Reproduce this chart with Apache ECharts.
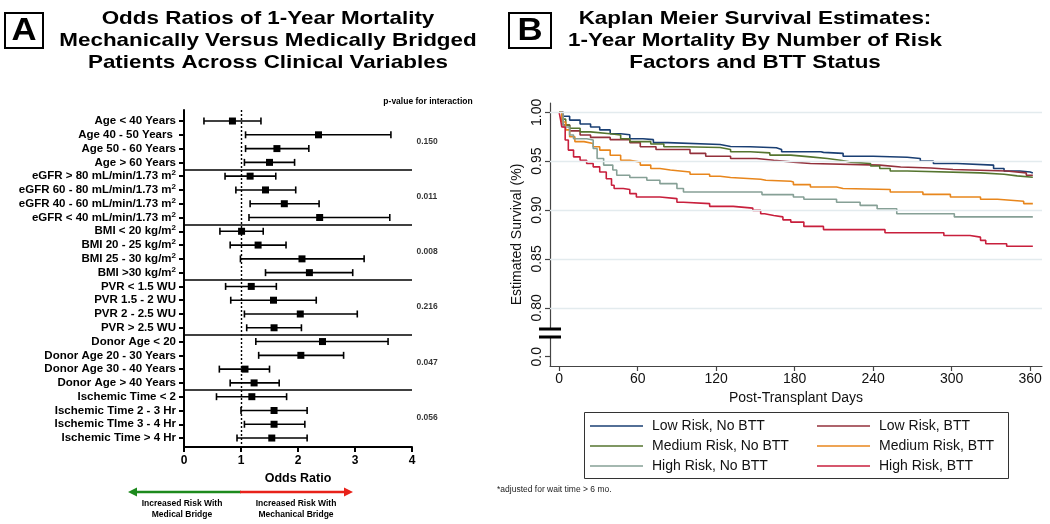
<!DOCTYPE html>
<html><head><meta charset="utf-8">
<script src="https://cdn.jsdelivr.net/npm/echarts@6/dist/echarts.min.js"></script>
<style>html,body{margin:0;padding:0;background:#fff}#c{width:1050px;height:524px}</style>
</head><body><div id="c"></div>
<script>
// ---------- Panel A: forest plot data ----------
const rowLabels = [
  'Age < 40 Years', 'Age 40 - 50 Years ', 'Age 50 - 60 Years', 'Age > 60 Years',
  'eGFR > 80 mL/min/1.73 m^2', 'eGFR 60 - 80 mL/min/1.73 m^2', 'eGFR 40 - 60 mL/min/1.73 m^2', 'eGFR < 40 mL/min/1.73 m^2',
  'BMI < 20 kg/m^2', 'BMI 20 - 25 kg/m^2', 'BMI 25 - 30 kg/m^2', 'BMI >30 kg/m^2',
  'PVR < 1.5 WU', 'PVR 1.5 - 2 WU', 'PVR 2 - 2.5 WU', 'PVR > 2.5 WU',
  'Donor Age < 20', 'Donor Age 20 - 30 Years', 'Donor Age 30 - 40 Years', 'Donor Age > 40 Years',
  'Ischemic Time < 2', 'Ischemic Time 2 - 3 Hr', 'Ischemic TIme 3 - 4 Hr', 'Ischemic Time > 4 Hr'
];
const orPoint = [0.85, 2.36, 1.63, 1.50, 1.16, 1.43, 1.76, 2.38, 1.01, 1.30, 2.07, 2.20,
                 1.18, 1.57, 2.04, 1.58, 2.43, 2.05, 1.07, 1.23, 1.19, 1.58, 1.58, 1.54];
const orLow   = [0.35, 1.08, 1.08, 1.06, 0.72, 0.91, 1.16, 1.14, 0.63, 0.81, 0.99, 1.43,
                 0.73, 0.82, 1.06, 1.10, 1.26, 1.31, 0.62, 0.81, 0.57, 1.00, 1.06, 0.93];
const orHigh  = [1.35, 3.63, 2.19, 1.94, 1.61, 1.96, 2.37, 3.61, 1.39, 1.79, 3.16, 2.96,
                 1.62, 2.32, 3.04, 2.06, 3.58, 2.80, 1.50, 1.67, 1.80, 2.16, 2.12, 2.16];
const pValues = ['0.150', '0.011', '0.008', '0.216', '0.047', '0.056'];
const pRows = [1.5, 5.5, 9.5, 13.5, 17.5, 21.5];
const groupSeparators = [3.5, 7.5, 11.5, 15.5, 19.5];

// ---------- Panel B: Kaplan-Meier data ----------
const dayTicks = [0, 60, 120, 180, 240, 300, 360];
const survTicks = [0.75, 0.80, 0.85, 0.90, 0.95, 1.00];
const survTickLabels = ['0.0', '0.80', '0.85', '0.90', '0.95', '1.00'];
const kmNames = ['Low Risk, No BTT', 'Low Risk, BTT', 'Medium Risk, No BTT', 'Medium Risk, BTT', 'High Risk, No BTT', 'High Risk, BTT'];
const kmColors = ['#1a3f73', '#93303b', '#55752f', '#e8861c', '#86a096', '#c81f3c'];
const kmLowNoBTT = [[0,1.000],[3,0.996],[8,0.992],[16,0.988],[24,0.985],[31,0.982],[39,0.978],[47,0.977],[54,0.973],[64,0.972],[72,0.969],[83,0.967],[123,0.965],[131,0.9647],[146,0.9637],[166,0.962],[170,0.9596],[200,0.959],[202,0.958],[217,0.955],[240,0.954],[266,0.9528],[276,0.950],[286,0.9476],[304,0.946],[332,0.9425],[340,0.940],[352,0.939],[360,0.938],[362,0.938]];
const kmLowBTT = [[0,1.000],[3,0.987],[8,0.981],[16,0.9767],[24,0.9743],[39,0.972],[54,0.969],[62,0.9647],[74,0.962],[100,0.958],[112,0.955],[131,0.9528],[151,0.951],[164,0.949],[179,0.9476],[192,0.946],[245,0.944],[261,0.943],[284,0.9415],[301,0.940],[342,0.938],[357,0.9356],[362,0.9356]];
const kmMedNoBTT = [[0,1.000],[2,0.993],[5,0.987],[8,0.9836],[16,0.980],[24,0.978],[39,0.9767],[47,0.973],[54,0.970],[70,0.9675],[80,0.9647],[95,0.964],[123,0.962],[131,0.9596],[146,0.9585],[161,0.9562],[177,0.9544],[192,0.9528],[205,0.951],[215,0.949],[223,0.9476],[238,0.945],[245,0.9425],[253,0.940],[266,0.938],[322,0.9367],[340,0.935],[350,0.9335],[362,0.933]];
const kmMedBTT = [[0,1.000],[2,0.990],[5,0.982],[8,0.975],[12,0.970],[19,0.968],[26,0.9647],[31,0.9613],[39,0.956],[47,0.951],[54,0.949],[62,0.946],[70,0.9425],[77,0.941],[85,0.939],[100,0.9367],[115,0.9346],[123,0.9333],[131,0.9315],[154,0.9305],[158,0.9295],[177,0.9288],[179,0.926],[192,0.9236],[212,0.922],[217,0.921],[253,0.9185],[278,0.916],[299,0.9134],[322,0.911],[335,0.909],[355,0.9066],[362,0.9066]];
const kmHighNoBTT = [[0,1.000],[3,0.985],[8,0.9767],[11,0.973],[21,0.9716],[26,0.963],[29,0.9528],[34,0.946],[41,0.941],[44,0.9356],[54,0.9333],[67,0.9305],[77,0.927],[90,0.922],[95,0.9185],[155,0.9158],[179,0.9134],[187,0.911],[212,0.908],[230,0.9048],[243,0.9014],[258,0.8963],[302,0.893],[362,0.893]];
const kmHighBTT = [[0,1.000],[1,0.993],[2,0.985],[4.6,0.9716],[7,0.9613],[11,0.9544],[16,0.951],[21,0.9476],[26,0.9442],[31,0.939],[36,0.932],[40,0.9254],[42,0.922],[49,0.921],[54,0.9168],[59,0.9134],[77,0.9117],[90,0.908],[95,0.9066],[115,0.9038],[133,0.902],[148,0.8997],[154,0.8963],[157,0.8945],[164,0.893],[171,0.890],[177,0.8877],[187,0.8833],[202,0.880],[249,0.8768],[294,0.874],[314,0.8723],[322,0.869],[326,0.8655],[342,0.863],[362,0.863]];
const kmData = [kmLowNoBTT, kmLowBTT, kmMedNoBTT, kmMedBTT, kmHighNoBTT, kmHighBTT];

// ---------- chart ----------
const FONT = "'Liberation Sans', Arial, Helvetica, sans-serif";
const chart = echarts.init(document.getElementById('c'), null, {renderer: 'canvas'});

function rowLabelRich(s) {
  const k = s.indexOf('^2');
  return k < 0 ? '{n|' + s + '}' : '{n|' + s.slice(0, k) + '}{s|2}';
}

const kmSeries = kmNames.map((n, i) => ({
  name: n, type: 'line', xAxisIndex: 1, yAxisIndex: 1, step: 'end',
  symbol: 'none', showSymbol: false, z: 3, animation: false,
  lineStyle: {color: kmColors[i], width: 1.6}, itemStyle: {color: kmColors[i]},
  emphasis: {disabled: true},
  data: kmData[i]
}));

const legendCommon = {
  orient: 'vertical', top: 419, icon: 'rect',
  itemWidth: 53, itemHeight: 1.6, itemGap: 6, padding: 0, selectedMode: false,
  textStyle: {fontSize: 14, color: '#111', lineHeight: 14, height: 14, padding: [0, 0, 0, 4]}
};

const option = {
  animation: false,
  textStyle: {fontFamily: FONT},
  grid: [
    {left: 184, top: 110, width: 228, height: 337},
    {left: 550, top: 103, width: 492, height: 263}
  ],
  xAxis: [
    {gridIndex: 0, type: 'value', min: 0, max: 4, interval: 1,
     axisLine: {onZero: false, lineStyle: {color: '#000', width: 2}},
     axisTick: {length: 5, lineStyle: {color: '#000', width: 2}},
     axisLabel: {color: '#000', fontWeight: 'bold', fontSize: 12, margin: 8},
     splitLine: {show: false},
     name: 'Odds Ratio', nameLocation: 'middle', nameGap: 25,
     nameTextStyle: {color: '#000', fontWeight: 'bold', fontSize: 12.5}},
    {gridIndex: 1, type: 'value', min: -7, max: 369,
     axisLine: {onZero: false, lineStyle: {color: '#444', width: 1.2}},
     axisTick: {customValues: dayTicks, length: 5, lineStyle: {color: '#444', width: 1.2}},
     axisLabel: {customValues: dayTicks, color: '#111', fontSize: 14, margin: 6},
     splitLine: {show: false},
     name: 'Post-Transplant Days', nameLocation: 'middle', nameGap: 22,
     nameTextStyle: {color: '#111', fontSize: 14}}
  ],
  yAxis: [
    {gridIndex: 0, type: 'value', inverse: true, min: -0.8, max: 23.65,
     axisLine: {onZero: false, lineStyle: {color: '#000', width: 2}},
     axisTick: {customValues: rowLabels.map((_, i) => i), length: 5, lineStyle: {color: '#000', width: 2}},
     axisLabel: {customValues: rowLabels.map((_, i) => i), color: '#000', fontWeight: 'bold', fontSize: 11.5, margin: 8,
       formatter: v => rowLabelRich(rowLabels[Math.round(v)]),
       rich: {
         n: {fontSize: 11.5, fontWeight: 'bold', color: '#000', lineHeight: 14, fontFamily: FONT},
         s: {fontSize: 8, fontWeight: 'bold', color: '#000', verticalAlign: 'top', lineHeight: 9, fontFamily: FONT}
       }},
     splitLine: {show: false}},
    {gridIndex: 1, type: 'value', min: 0.7405, max: 1.0095,
     axisLine: {onZero: false, lineStyle: {color: '#444', width: 1.2}},
     axisTick: {customValues: survTicks, length: 5, lineStyle: {color: '#444', width: 1.2}},
     axisLabel: {customValues: survTicks, rotate: 90, color: '#111', fontSize: 14, margin: 6,
       formatter: v => survTickLabels[survTicks.findIndex(t => Math.abs(t - v) < 1e-6)]},
     splitLine: {show: false},
     name: 'Estimated Survival (%)', nameLocation: 'middle', nameGap: 26, nameRotate: 90,
     nameTextStyle: {color: '#111', fontSize: 14}}
  ],
  legend: [
    Object.assign({data: [kmNames[0], kmNames[2], kmNames[4]], left: 590}, legendCommon),
    Object.assign({data: [kmNames[1], kmNames[3], kmNames[5]], left: 817}, legendCommon)
  ],
  series: [
    {
      type: 'custom', xAxisIndex: 0, yAxisIndex: 0, z: 4, clip: false,
      data: rowLabels.map((_, i) => [i, orLow[i], orPoint[i], orHigh[i]]),
      encode: {x: [1, 2, 3], y: 0},
      renderItem: function (params, api) {
        const row = api.value(0);
        const pL = api.coord([api.value(1), row]);
        const pP = api.coord([api.value(2), row]);
        const pH = api.coord([api.value(3), row]);
        const cap = 3.5, sq = 7;
        const st = {stroke: '#000', lineWidth: 1.6};
        return {type: 'group', children: [
          {type: 'line', shape: {x1: pL[0], y1: pL[1], x2: pH[0], y2: pH[1]}, style: st},
          {type: 'line', shape: {x1: pL[0], y1: pL[1] - cap, x2: pL[0], y2: pL[1] + cap}, style: st},
          {type: 'line', shape: {x1: pH[0], y1: pH[1] - cap, x2: pH[0], y2: pH[1] + cap}, style: st},
          {type: 'rect', shape: {x: pP[0] - sq / 2, y: pP[1] - sq / 2, width: sq, height: sq}, style: {fill: '#000'}}
        ]};
      }
    },
    {
      type: 'scatter', xAxisIndex: 0, yAxisIndex: 0, symbolSize: 1, z: 2,
      itemStyle: {color: 'rgba(0,0,0,0)'}, emphasis: {disabled: true}, clip: false,
      data: pRows.map(r => [4, r]),
      label: {show: true, position: 'right', distance: 4, formatter: p => pValues[p.dataIndex],
        fontSize: 8.5, fontWeight: 'bold', color: '#000'},
      markLine: {silent: true, symbol: 'none', animation: false, label: {show: false},
        data: [{xAxis: 1, lineStyle: {type: [2, 2], color: '#000', width: 1.4}}]
          .concat(groupSeparators.map(y => ({yAxis: y, lineStyle: {type: 'solid', color: '#000', width: 1.5}})))}
    },
    {
      type: 'line', xAxisIndex: 1, yAxisIndex: 1, data: [], z: 1,
      markLine: {silent: true, symbol: 'none', animation: false, label: {show: false},
        lineStyle: {color: '#e3ebee', width: 1.3, type: 'solid'},
        data: survTicks.filter(v => v >= 0.8).map(v => ({yAxis: v}))}
    }
  ].concat(kmSeries),
  graphic: [
    // panel letters
    {type: 'rect', shape: {x: 5, y: 13, width: 38, height: 35}, style: {fill: 'none', stroke: '#000', lineWidth: 2}},
    {type: 'text', x: 24, y: 31, scaleX: 1.12, style: {text: 'A', font: "bold 31px " + FONT, fill: '#000', align: 'center', verticalAlign: 'middle'}},
    {type: 'rect', shape: {x: 509, y: 13, width: 42, height: 35}, style: {fill: 'none', stroke: '#000', lineWidth: 2}},
    {type: 'text', x: 530, y: 31, scaleX: 1.12, style: {text: 'B', font: "bold 31px " + FONT, fill: '#000', align: 'center', verticalAlign: 'middle'}},
    // titles
    {type: 'text', x: 268, y: 8, scaleX: 1.18, style: {text: 'Odds Ratios of 1-Year Mortality\nMechanically Versus Medically Bridged\nPatients Across Clinical Variables',
      font: "bold 19px " + FONT, lineHeight: 22, fill: '#000', align: 'center', verticalAlign: 'top'}},
    {type: 'text', x: 755, y: 8, scaleX: 1.18, style: {text: 'Kaplan Meier Survival Estimates:\n1-Year Mortality By Number of Risk\nFactors and BTT Status',
      font: "bold 19px " + FONT, lineHeight: 22, fill: '#000', align: 'center', verticalAlign: 'top'}},
    // p-value header
    {type: 'text', x: 428, y: 102, style: {text: 'p-value for interaction', font: "bold 8.5px " + FONT, fill: '#000', align: 'center', verticalAlign: 'middle'}},
    // arrows
    {type: 'line', shape: {x1: 135, y1: 492, x2: 241, y2: 492}, style: {stroke: '#1d8a1d', lineWidth: 2.5}},
    {type: 'polygon', shape: {points: [[128, 492], [137, 487.5], [137, 496.5]]}, style: {fill: '#1d8a1d'}},
    {type: 'line', shape: {x1: 240, y1: 492, x2: 346, y2: 492}, style: {stroke: '#e8221a', lineWidth: 2.5}},
    {type: 'polygon', shape: {points: [[353, 492], [344, 487.5], [344, 496.5]]}, style: {fill: '#e8221a'}},
    {type: 'text', x: 182, y: 498, style: {text: 'Increased Risk With\nMedical Bridge', font: "bold 8.5px " + FONT, lineHeight: 11, fill: '#000', align: 'center', verticalAlign: 'top'}},
    {type: 'text', x: 296, y: 498, style: {text: 'Increased Risk With\nMechanical Bridge', font: "bold 8.5px " + FONT, lineHeight: 11, fill: '#000', align: 'center', verticalAlign: 'top'}},
    // axis break marks
    {type: 'rect', shape: {x: 548, y: 330, width: 5, height: 6}, style: {fill: '#fff'}, z: 10},
    {type: 'rect', shape: {x: 539, y: 327.5, width: 22, height: 3}, style: {fill: '#000'}, z: 11},
    {type: 'rect', shape: {x: 539, y: 335.5, width: 22, height: 3}, style: {fill: '#000'}, z: 11},
    // legend box
    {type: 'rect', shape: {x: 584.5, y: 412.5, width: 424, height: 66}, style: {fill: 'none', stroke: '#333', lineWidth: 1}},
    // footnote
    {type: 'text', x: 497, y: 490, style: {text: '*adjusted for wait time > 6 mo.', font: "8.5px " + FONT, fill: '#222', verticalAlign: 'middle'}}
  ]
};
chart.setOption(option);
</script>
</body></html>
